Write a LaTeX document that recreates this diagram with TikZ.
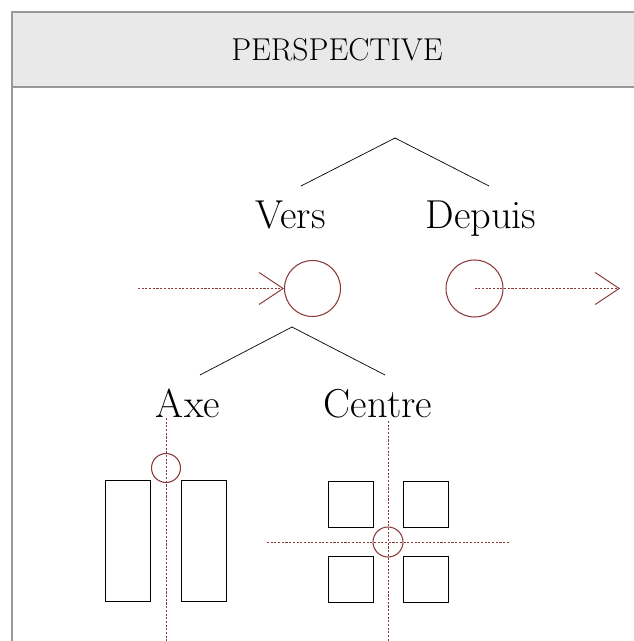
\documentclass[tikz,border=0pt]{standalone}
\usepackage[dvipsnames]{xcolor}
\usepackage{tikz}
\usetikzlibrary{arrows.meta}

\definecolor{rust}{RGB}{138,58,58}
\definecolor{headgray}{RGB}{233,233,233}

\tikzset{
  % "word" = the labels of the tree
  word/.style={draw=none, anchor=base, inner sep=0pt, font=\fontsize{23}{27}\selectfont},
  % "eye" = the small red circles
  eye/.style={circle, draw=rust, line width=0.6pt, inner sep=0pt},
  % "flow" = dashed red lines
  flow/.style={draw=rust, line width=0.55pt, dash pattern=on 1.2pt off 0.9pt},
  % "block" = black rectangles
  block/.style={draw=black, line width=0.5pt, inner sep=0pt}
}

\begin{document}
\begin{tikzpicture}[x=0.02cm, y=-0.02cm]
% Picture size in pixels of the reference
\useasboundingbox (0,0) rectangle (634,641);
\clip (0,0) rectangle (634,641);

% Frame and header band
\draw[draw=black!40, line width=0.6pt, fill=white] (12,12) rectangle (660,680);
\draw[draw=black!40, line width=0.6pt, fill=headgray] (12,12) rectangle (660,87);
\node[draw=none, font=\fontsize{18}{22}\selectfont] (title) at (337,50) {PERSPECTIVE};

% First tree: Vers / Depuis
\coordinate (top) at (395,138);
\coordinate (topL) at (301,186);
\coordinate (topR) at (489,186);
\draw[thin] (topL) -- (top) -- (topR);
\node[word] (vers) at (290.5,229) {Vers};
\node[word] (depuis) at (481,229) {Depuis};

% Circles with incoming and outgoing arrows
\node[eye, minimum size=1.12cm] (versC) at (312.5,288.5) {};
\node[eye, minimum size=1.14cm] (depuisC) at (474.5,288.5) {};
\coordinate (in) at (138,288.5);
\coordinate (out) at (620,288.5);
\draw[flow, -{Straight Barb[length=0.48cm, width=0.64cm]}] (in) -- (versC.west);
\draw[flow, -{Straight Barb[length=0.48cm, width=0.64cm]}] (depuisC.center) -- (out);

% Second tree: Axe / Centre
\coordinate (sub) at (292,327);
\coordinate (subL) at (200,375);
\coordinate (subR) at (385,375);
\draw[thin] (subL) -- (sub) -- (subR);
\node[word] (axe) at (188,417) {Axe};
\node[word] (centre) at (378,417) {Centre};

% Axe: two bars around a vertical axis
\node[block, minimum width=0.9cm, minimum height=2.42cm] (barL) at (127.5,540.5) {};
\node[block, minimum width=0.9cm, minimum height=2.42cm] (barR) at (203.5,540.5) {};
\coordinate (axeTop) at (166,418);
\coordinate (axeBot) at (166,645);
\draw[flow] (axeTop) -- (axeBot);
\node[eye, minimum size=0.58cm] (axeC) at (166,468) {};

% Centre: four squares around a cross
\node[block, minimum width=0.9cm, minimum height=0.92cm] (sqA) at (350.5,504) {};
\node[block, minimum width=0.9cm, minimum height=0.92cm] (sqB) at (426,504) {};
\node[block, minimum width=0.9cm, minimum height=0.92cm] (sqC) at (350.5,579.5) {};
\node[block, minimum width=0.9cm, minimum height=0.92cm] (sqD) at (426,579.5) {};
\coordinate (crossW) at (267,542);
\coordinate (crossE) at (510,542);
\coordinate (crossN) at (388,421);
\coordinate (crossS) at (388,645);
\draw[flow] (crossW) -- (crossE);
\draw[flow] (crossN) -- (crossS);
\node[eye, minimum size=0.6cm] (centreC) at (388,542) {};
\end{tikzpicture}
\end{document}
